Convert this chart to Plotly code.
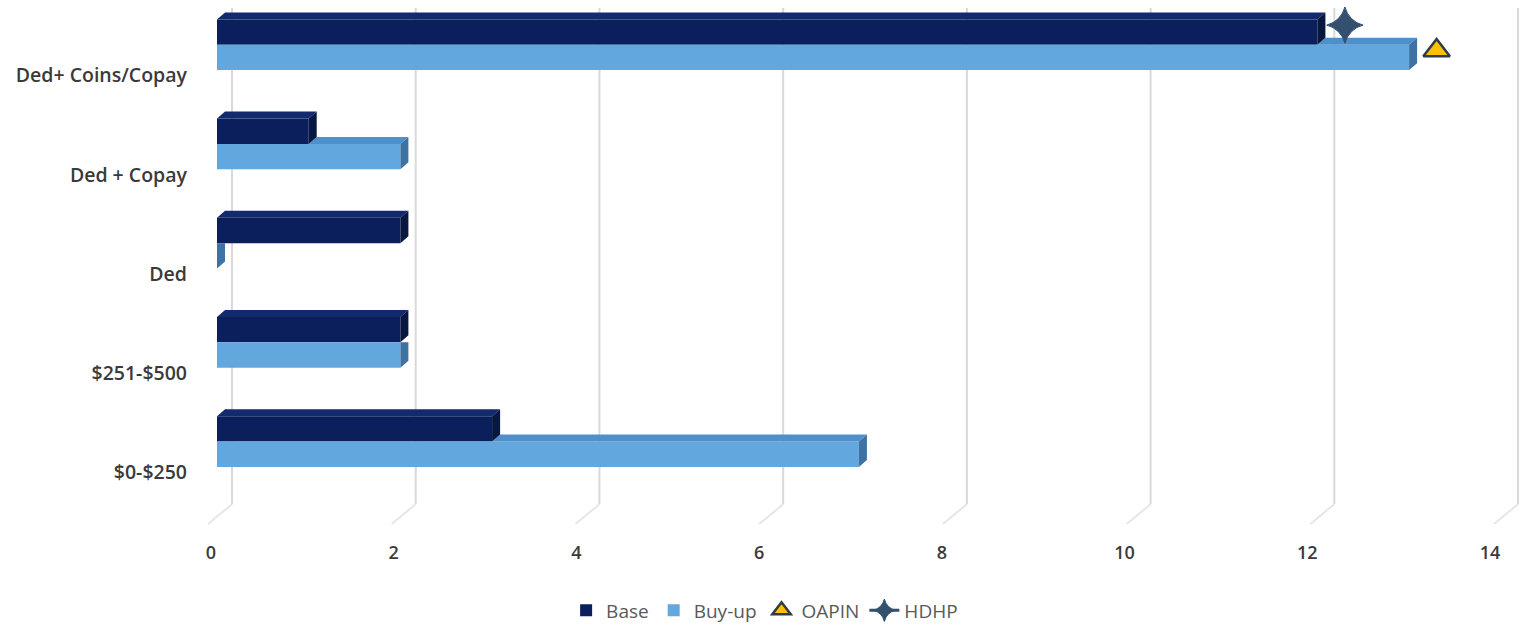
import plotly.graph_objects as go

# ---- data -------------------------------------------------------------
categories = ["$0-$250", "$251-$500", "Ded", "Ded + Copay", "Ded+ Coins/Copay"]
base_values = [3, 2, 2, 1, 12]
buyup_values = [7, 2, 0, 2, 13]
oapin_value = [13.3]
hdhp_value = [12.3]
marker_category = "Ded+ Coins/Copay"
x_ticks = [0, 2, 4, 6, 8, 10, 12, 14]

# ---- styling ----------------------------------------------------------
BASE, BASE_TOP, BASE_SIDE = "#0B1F5C", "#132B6E", "#07173F"
BUY, BUY_TOP, BUY_SIDE = "#62A7DD", "#4F90CB", "#3D72A2"
GRID, GRID_FLOOR = "#D9D9D9", "#E6E6E6"
FONT = "Open Sans"

W, H = 1529, 630
L, B = 195, 92

# pixel scale of the three planes of the pseudo-3D chart
BAR_ZERO_PX, BAR_SCALE = 217, 91.7      # front faces of the bars
LBL_ZERO_PX, LBL_SCALE = 211, 91.36     # tick labels on the floor edge
WALL_ZERO_PX, WALL_SCALE = 232, 91.86   # gridlines on the back wall
CAT_SCALE, CAT0_PX = 99.75, 444         # category spacing / row 0 centre


def x_range(zero_px, scale):
    return [(L - zero_px) / scale, (W - zero_px) / scale]


def y_of(py):
    return (CAT0_PX - py) / CAT_SCALE


y_range = [y_of(H - B), y_of(0)]
BAR_W = 25.5 / CAT_SCALE
DX = 8 / BAR_SCALE
DY = 7 / CAT_SCALE
rows = list(range(len(categories)))

fig = go.Figure()

# front faces
fig.add_trace(go.Bar(name="Base", orientation="h", x=base_values, y=rows,
                     width=BAR_W, offset=0, marker=dict(color=BASE, line_width=0),
                     hoverinfo="x+name"))
fig.add_trace(go.Bar(name="Buy-up", orientation="h", x=buyup_values, y=rows,
                     width=BAR_W, offset=-BAR_W, marker=dict(color=BUY, line_width=0),
                     hoverinfo="x+name"))


def faces():
    bt_x, bt_y, bs_x, bs_y = [], [], [], []
    ut_x, ut_y, us_x, us_y = [], [], [], []
    for c, b, v in zip(rows, base_values, buyup_values):
        top = c + BAR_W
        # base: top face and end face
        bt_x += [0, DX, b + DX, b, 0, None]
        bt_y += [top, top + DY, top + DY, top, top, None]
        bs_x += [b, b, b + DX, b + DX, b, None]
        bs_y += [c, top, top + DY, c + DY, c, None]
        # buy-up: visible part of the top face, and end face
        if v > b:
            ut_x += [b, v, v + DX, b + DX, b, None]
            ut_y += [c, c, c + DY, c + DY, c, None]
            us_x += [v, v, v + DX, v + DX, v, None]
            us_y += [c - BAR_W, c, c + DY, c - BAR_W + DY, c - BAR_W, None]
        else:
            us_x += [v, v, v + DX, v + DX, v, None]
            us_y += [c - BAR_W, c, c, c - BAR_W + DY, c - BAR_W, None]
    return (ut_x, ut_y, BUY_TOP), (us_x, us_y, BUY_SIDE), (bt_x, bt_y, BASE_TOP), (bs_x, bs_y, BASE_SIDE)


for fx, fy, col in faces():
    fig.add_trace(go.Scatter(x=fx, y=fy, mode="lines", fill="toself", fillcolor=col,
                             line=dict(width=0, color=col), showlegend=False,
                             hoverinfo="skip"))

row_m = categories.index(marker_category)
fig.add_trace(go.Scatter(name="OAPIN", x=oapin_value, y=[row_m - BAR_W / 2 + DY],
                         mode="markers",
                         marker=dict(symbol="triangle-up", size=23, color="#FFC000",
                                     line=dict(color="#2E3B48", width=2.5))))
fig.add_trace(go.Scatter(name="HDHP", x=hdhp_value, y=[row_m + BAR_W / 2 + DY],
                         mode="lines+markers", line=dict(color="#34506F", width=3),
                         marker=dict(symbol="star-diamond", size=26, color="#34506F",
                                     line=dict(color="#34506F", width=1))))

# placeholders so the label axis and the wall axis are built
fig.add_trace(go.Scatter(x=[0], y=[0], xaxis="x2", mode="markers", marker_opacity=0,
                         showlegend=False, hoverinfo="skip"))
fig.add_trace(go.Scatter(x=[0], y=[0], xaxis="x3", mode="markers", marker_opacity=0,
                         showlegend=False, hoverinfo="skip"))

# back-wall gridlines with their fold onto the floor
wall_top, wall_bottom, floor_front = y_of(8), y_of(507), y_of(527)
floor_dx = 24 / WALL_SCALE
for k in x_ticks:
    fig.add_shape(type="line", xref="x3", yref="y", layer="below",
                  x0=k, x1=k, y0=wall_top, y1=wall_bottom,
                  line=dict(color=GRID, width=2))
    fig.add_shape(type="line", xref="x3", yref="y", layer="below",
                  x0=k, x1=k - floor_dx, y0=wall_bottom, y1=floor_front,
                  line=dict(color=GRID_FLOOR, width=2))

axis_off = dict(showgrid=False, zeroline=False, showline=False, ticks="",
                fixedrange=True)
fig.update_layout(
    width=W, height=H,
    margin=dict(l=L, r=0, t=0, b=B),
    paper_bgcolor="white", plot_bgcolor="white",
    barmode="overlay",
    font=dict(family=FONT, color="#404040"),
    xaxis=dict(range=x_range(BAR_ZERO_PX, BAR_SCALE), showticklabels=False, **axis_off),
    xaxis2=dict(range=x_range(LBL_ZERO_PX, LBL_SCALE), overlaying="x", anchor="y",
                side="bottom", tickvals=x_ticks, ticklabelstandoff=5,
                tickfont=dict(size=18, color="#3A3A3A", weight=600), **axis_off),
    xaxis3=dict(range=x_range(WALL_ZERO_PX, WALL_SCALE), overlaying="x", anchor="y",
                showticklabels=False, **axis_off),
    yaxis=dict(range=y_range, type="linear", tickvals=[r - 0.31 for r in rows],
               ticktext=categories, ticklabelstandoff=7,
               tickfont=dict(size=19.5, color="#3A3A3A", weight=600), **axis_off),
    legend=dict(orientation="h", x=0.427, xanchor="center", y=-0.141, yanchor="middle",
                font=dict(size=19, color="#595959"), traceorder="normal"),
    showlegend=True,
)

fig.write_html("out.html")
